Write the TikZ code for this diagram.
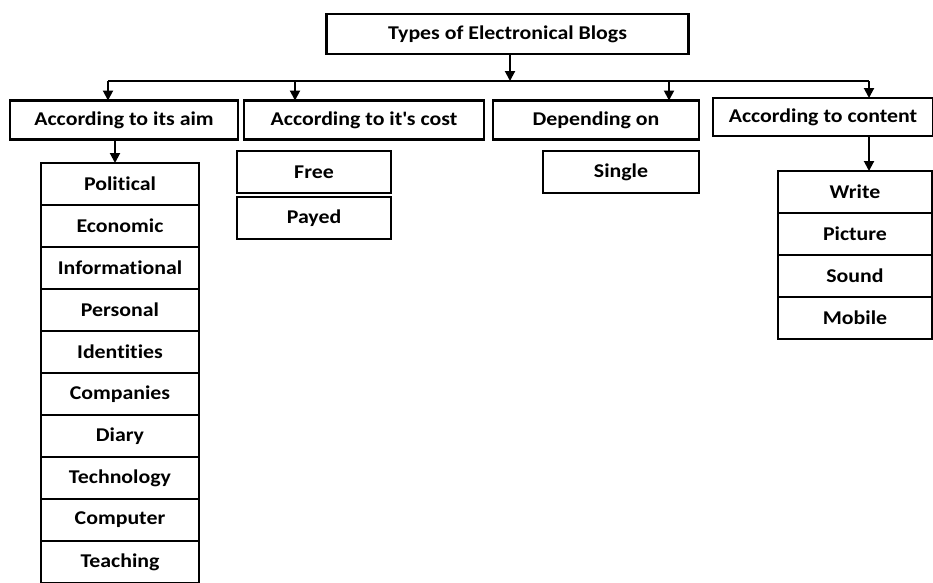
\documentclass[tikz,border=0pt]{standalone}
\usepackage{fontspec}
\setmainfont{Carlito}
\newfontfamily\blogfont{Carlito}[FakeStretch=1.12, Ligatures=NoCommon]
\usepackage{tikz}
\usetikzlibrary{positioning,arrows.meta,calc}

\tikzset{
  blogbox/.style={draw, line width=2.4pt, font=\blogfont\fontsize{19.5}{22}\selectfont\bfseries,
    inner sep=0pt, outer sep=0pt, align=center},
  listbox/.style={blogbox, minimum width=158pt, minimum height=42pt},
  link/.style={line width=2pt},
  linkarrow/.style={link, -{Triangle[length=10pt,width=10pt]}}
}

\begin{document}
\begin{tikzpicture}[x=1pt,y=1pt]
        \useasboundingbox (0,0) rectangle (933,-582);
        % top and second level
        \node[blogbox, minimum width=362pt, minimum height=40pt] (types) at (507.5,-34) {Types of Electronical Blogs};
        \node[blogbox, minimum width=228pt, minimum height=39pt] (aim) at (124,-120) {According to its aim};
        \node[blogbox, minimum width=240pt, minimum height=39pt] (cost) at (364,-120) {According to it\textquotesingle s cost};
        \node[blogbox, minimum width=206pt, minimum height=39pt] (dep) at (596,-120) {Depending on};
        \node[blogbox, minimum width=220pt, minimum height=38pt] (cont) at (823,-117) {According to content};
        % bus
        \coordinate (hub) at (510,-81);
        \coordinate (b1) at (108,-81);
        \coordinate (b2) at (295,-81);
        \coordinate (b3) at (669,-81);
        \coordinate (b4) at (869,-81);
        \draw[linkarrow] (types.south -| hub) -- (hub);
        \draw[link] (b1) -- (b4);
        \foreach \b/\n in {b1/aim, b2/cost, b3/dep, b4/cont}
          \draw[linkarrow] (\b) -- (\b |- \n.north);
        % aim list
        \node[listbox, anchor=north] (a1) at (120,-163) {Political};
        \foreach \t [count=\i from 2, evaluate=\i as \j using int(\i-1)] in
          {Economic, Informational, Personal, Identities, Companies, Diary, Technology, Computer, Teaching}
          \node[listbox, below=0pt of a\j] (a\i) {\t};
        \draw[linkarrow] ($(aim.south -| a1)+(-5,0)$) -- ($(a1.north)+(-5,0)$);
        % cost list
        \node[listbox, minimum width=154pt, anchor=north] (free) at (314,-151) {Free};
        \node[listbox, minimum width=154pt, below=4pt of free] (payed) {Payed};
        % depending list
        \node[listbox, minimum width=156pt, anchor=north] (single) at (621,-151) {Single};
        % content list
        \node[listbox, minimum width=154pt, anchor=north] (c1) at (855,-171) {Write};
        \node[listbox, minimum width=154pt, below=0pt of c1] (c2) {Picture};
        \node[listbox, minimum width=154pt, below=0pt of c2] (c3) {Sound};
        \node[listbox, minimum width=154pt, below=0pt of c3] (c4) {Mobile};
        \draw[linkarrow] (b4 |- cont.south) -- (b4 |- c1.north);
    \end{tikzpicture}
\end{document}
